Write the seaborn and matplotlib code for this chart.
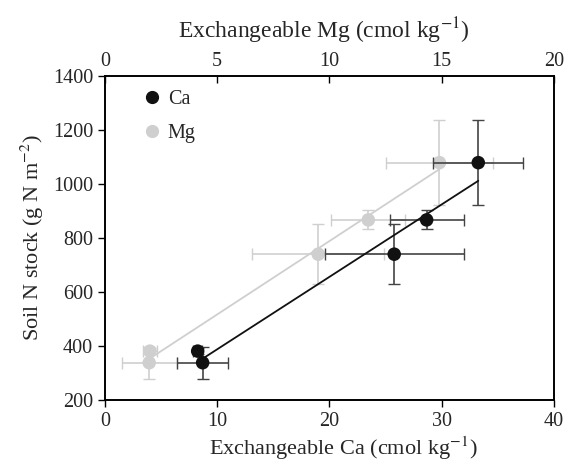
import numpy as np
import pandas as pd
import matplotlib
matplotlib.use("Agg")
import matplotlib.pyplot as plt
import seaborn as sns

# values
ca = [8.26, 8.7, 25.77, 28.66, 33.26]
ca_err = [0.4, 2.3, 6.2, 3.3, 4.0]
mg = [2.0, 1.97, 9.5, 11.73, 14.9]
mg_err = [0.3, 1.23, 2.95, 1.65, 2.4]
soil_n = [381, 338, 740, 867, 1079]
soil_n_err = [12, 60, 112, 35, 157]

df = pd.DataFrame({"Ca": ca, "Mg": mg, "N": soil_n})

sns.set_style("ticks")
plt.rcParams["font.family"] = ["Liberation Serif", "DejaVu Serif"]
plt.rcParams["mathtext.fontset"] = "stix"

fig = plt.figure(figsize=(5.69, 4.65), dpi=100)
ax = fig.add_axes([0.1845, 0.1398, 0.789, 0.6968])
ax2 = ax.twiny()

ca_col = "#111111"
mg_col = "#cfcfcf"

# Mg on the top axis
ax2.errorbar(df["Mg"], df["N"], xerr=mg_err, yerr=soil_n_err, fmt="none",
             ecolor=mg_col, elinewidth=1.2, capsize=4, zorder=1)
sns.regplot(data=df, x="Mg", y="N", ax=ax2, ci=None, scatter=False,
            line_kws={"color": mg_col, "lw": 1.3, "zorder": 2})
sns.scatterplot(data=df, x="Mg", y="N", ax=ax2, color=mg_col, s=95,
                edgecolor="none", zorder=3, legend=False)

# Ca on the bottom axis
ax.errorbar(df["Ca"], df["N"], xerr=ca_err, yerr=soil_n_err, fmt="none",
            ecolor="#444444", elinewidth=1.2, capsize=4, zorder=4)
sns.regplot(data=df, x="Ca", y="N", ax=ax, ci=None, scatter=False,
            line_kws={"color": ca_col, "lw": 1.3, "zorder": 5})
sns.scatterplot(data=df, x="Ca", y="N", ax=ax, color=ca_col, s=95,
                edgecolor="none", zorder=6, legend=False)
ax.set_zorder(ax2.get_zorder() + 1)
ax.patch.set_visible(False)

ax.set_xlim(0, 40)
ax.set_ylim(200, 1400)
ax.set_xticks([0, 10, 20, 30, 40])
ax.set_yticks(range(200, 1401, 200))
ax2.set_xlim(0, 20)
ax2.set_xticks([0, 5, 10, 15, 20])

ax.set_xlabel("Exchangeable Ca (cmol kg$^{-1}$)", fontsize=16, labelpad=1)
ax.set_ylabel("Soil N stock (g N m$^{-2}$)", fontsize=16, labelpad=5)
ax2.set_xlabel("Exchangeable Mg (cmol kg$^{-1}$)", fontsize=17, labelpad=12)
ax2.set_ylabel("")
ax.xaxis.set_label_coords(0.53, -0.105)
ax2.xaxis.set_label_coords(0.487, 1.115)

ax.tick_params(axis="both", labelsize=14.5, direction="out", length=5, width=1, color="black")
ax2.tick_params(axis="x", labelsize=14.5, direction="in", length=5, width=1, color="black")
for a in (ax, ax2):
    for s in a.spines.values():
        s.set_visible(True)
        s.set_color("black")
        s.set_linewidth(1.2)

h1 = plt.Line2D([], [], marker="o", ls="none", color=ca_col, markersize=8.5)
h2 = plt.Line2D([], [], marker="o", ls="none", color=mg_col, markersize=8.5)
ax.legend([h1, h2], ["Ca", "Mg"], loc="upper left", frameon=False, fontsize=14.5,
          handletextpad=0.3, borderaxespad=0.3, handlelength=1.0,
          labelspacing=0.75, bbox_to_anchor=(0.05, 1.0))

fig.savefig("out.png", dpi=100)
